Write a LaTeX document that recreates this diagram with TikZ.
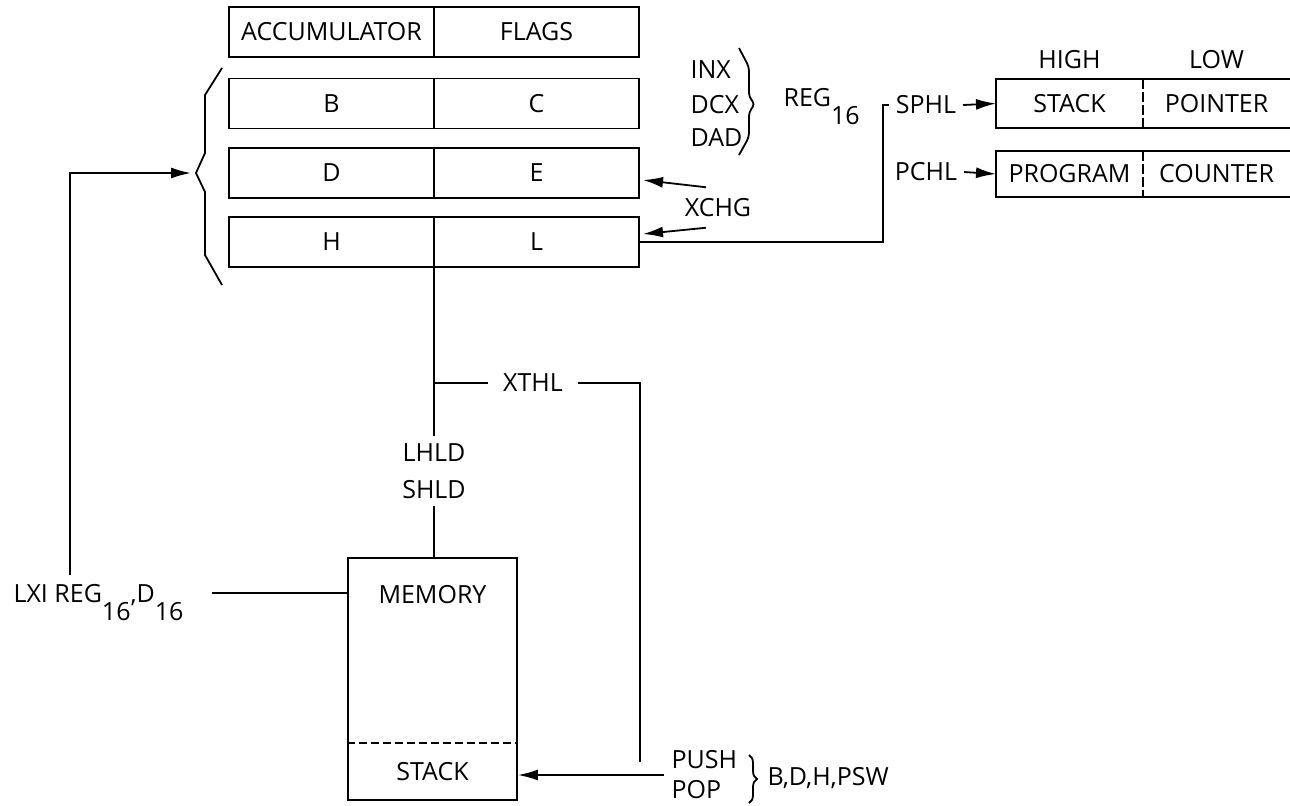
\documentclass[tikz,border=0pt]{standalone}
\usepackage{fontspec}
\setmainfont{Open Sans}
\usetikzlibrary{positioning}
\usetikzlibrary{calc}
\usetikzlibrary{arrows.meta}
\usetikzlibrary{decorations.pathreplacing}
\newcommand{\lowsub}[1]{\raisebox{-9pt}{#1}}

\begin{document}
\begin{tikzpicture}[x=0.5pt, y=-0.5pt,
    font=\fontsize{12.5pt}{14pt}\selectfont,
    line width=0.9pt,
    reg/.style={draw, minimum width=102.5pt, minimum height=25pt, inner sep=0pt, outer sep=0pt},
    ptr/.style={minimum width=73.5pt, minimum height=24.5pt, inner sep=0pt, outer sep=0pt},
    arr/.style={-{Latex[length=10pt, width=5.5pt]}}]
    \useasboundingbox (0,0) rectangle (1290,805);

    % register pairs
    \node[reg] (acc) at (331.5,32) {ACCUMULATOR};
    \node[reg, right=0pt of acc] (flags) {FLAGS};
    \node[reg] (b) at (331.5,103.5) {B};
    \node[reg, right=0pt of b] (c) {C};
    \node[reg] (d) at (331.5,173) {D};
    \node[reg, right=0pt of d] (e) {E};
    \node[reg] (h) at (331.5,242) {H};
    \node[reg, right=0pt of h] (l) {L};

    % brace round B, D, H
    \draw (222,68) -- (205,95) -- (205,153) -- (196,173) -- (205,192) -- (205,255) -- (222,285);

    % 16-bit instructions
    \node[anchor=west] (inx) at (683,70) {INX};
    \node[anchor=west] (dcx) at (683,105) {DCX};
    \node[anchor=west] (dad) at (683,138) {DAD};
    \draw[rounded corners=2pt] (739,48) -- (749,67) -- (749,97) -- (755,104) -- (749,112) -- (749,137) -- (739,155);
    \node[anchor=base west] (reg) at (776,106) {REG\lowsub{16}};

    % stack pointer and program counter
    \node[ptr] (sphigh) at (1069.5,103.5) {STACK};
    \node[ptr, right=0pt of sphigh] (splow) {POINTER};
    \draw (splow.north east) -- (sphigh.north west) -- (sphigh.south west) -- (splow.south east);
    \draw[dash pattern=on 5pt off 1.5pt] (sphigh.north east) -- (sphigh.south east);
    \node[ptr, minimum height=23pt] (pchigh) at (1069.5,174) {PROGRAM};
    \node[ptr, minimum height=23pt, right=0pt of pchigh] (pclow) {COUNTER};
    \draw (pclow.north east) -- (pchigh.north west) -- (pchigh.south west) -- (pclow.south east);
    \draw[dash pattern=on 5pt off 1.5pt] (pchigh.north east) -- (pchigh.south east);
    \node (high) at (1069.5,60) {HIGH};
    \node (low) at (1216.5,60) {LOW};

    \node[inner xsep=3pt] (sphl) at (926,105) {SPHL};
    \node[inner xsep=3pt] (pchl) at (926,172) {PCHL};
    \draw[arr] (sphl.east) -- (sphigh.west);
    \draw[arr] (pchl.east) -- (pchigh.west);
    \coordinate (sphlknee) at (883,105);
    \draw (l.east) -| (sphlknee) -- (sphl.west);

    % exchange
    \node (xchg) at (718,208) {XCHG};
    \draw[arr] ([xshift=-6pt, yshift=2pt]xchg.north) -- ([xshift=2pt, yshift=-3.5pt]e.east);
    \draw[arr] ([xshift=-6pt, yshift=-1.5pt]xchg.south) -- ([xshift=2pt, yshift=4pt]l.east);

    % memory
    \node[draw, minimum width=84.5pt, minimum height=121pt, inner sep=0pt] (mem) at (432.5,679) {};
    \node (memlbl) at (432.5,595) {MEMORY};
    \node (stk) at (432.5,772) {STACK};
    \coordinate (stkline) at (0,743);
    \draw[dash pattern=on 4pt off 2pt] (mem.west |- stkline) -- (mem.east |- stkline);

    % HL to memory
    \node[align=center, font=\fontsize{12.5pt}{18.5pt}\selectfont] (lhld) at (434,471) {LHLD\\SHLD};
    \draw (h.south east) -- (lhld.north);
    \draw (lhld.south) -- (lhld.south |- mem.north);

    % exchange top of stack
    \node[inner xsep=7pt] (xthl) at (533,383) {XTHL};
    \draw (xthl.west) -- (xthl.west -| h.south east);
    \coordinate (xthldrop) at (640,762);
    \draw (xthl.east) -| (xthldrop);

    % push and pop
    \node[anchor=west, align=left, font=\fontsize{12.5pt}{15pt}\selectfont] (pushpop) at (664,775) {PUSH\\POP};
    \draw[arr] (pushpop.west) -- (pushpop.west -| mem.east);
    \coordinate (brtop) at (749,755);
    \coordinate (brbot) at (749,803);
    \draw[decorate, decoration={brace, amplitude=4pt}] (brtop) -- (brbot);
    \node[anchor=west] (regs) at (760,778) {B,D,H,PSW};

    % load immediate
    \node[anchor=base west] (lxi) at (6,602) {LXI REG\lowsub{16},D\lowsub{16}};
    \coordinate (lxiend) at (212,593);
    \draw (lxiend) -- (lxiend -| mem.west);
    \coordinate (lxiup) at (70,575);
    \coordinate (bracetip) at (191,173);
    \draw[arr] (lxiup) |- (bracetip);
\end{tikzpicture}
\end{document}
